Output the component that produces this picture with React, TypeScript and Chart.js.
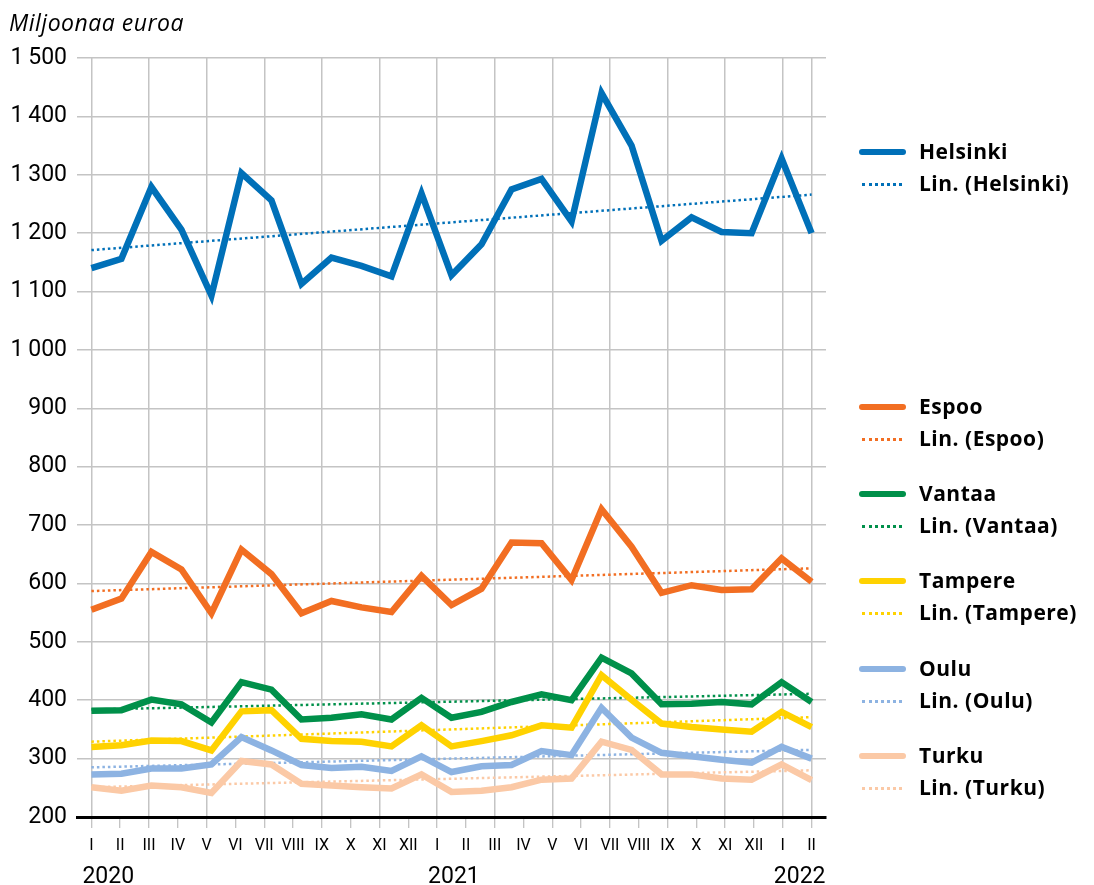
import React, { useEffect, useRef } from 'react';
import { Chart, registerables } from 'chart.js';

Chart.register(...registerables);

// Axis labels (26 month ticks shown on the axis)
const axisLabels = ['I', 'II', 'III', 'IV', 'V', 'VI', 'VII', 'VIII', 'IX', 'X', 'XI', 'XII',
  'I', 'II', 'III', 'IV', 'V', 'VI', 'VII', 'VIII', 'IX', 'X', 'XI', 'XII', 'I', 'II'];
const years = ['2020', '2021', '2022'];
const yearTickIndex = [0, 12, 24];
const titleText = 'Miljoonaa euroa';

// Monthly values, million euros (25 points as drawn in the source)
const helsinki = [1140, 1156, 1279, 1206, 1093, 1303, 1256, 1113, 1158, 1144, 1126, 1268, 1128,
  1181, 1275, 1293, 1220, 1440, 1350, 1187, 1227, 1202, 1200, 1328, 1200];
const espoo = [555, 574, 654, 624, 549, 658, 616, 549, 570, 559, 551, 613, 563,
  591, 670, 669, 606, 727, 663, 584, 597, 589, 590, 643, 603];
const vantaa = [382, 383, 401, 393, 362, 431, 418, 367, 370, 376, 367, 404, 370,
  380, 397, 410, 400, 473, 446, 393, 394, 397, 393, 431, 397];
const tampere = [320, 323, 331, 330, 314, 381, 383, 334, 330, 329, 321, 357, 321,
  330, 340, 357, 353, 443, 401, 360, 354, 350, 346, 380, 354];
const oulu = [273, 274, 283, 283, 290, 337, 314, 289, 284, 286, 279, 304, 277,
  287, 289, 313, 306, 387, 336, 310, 304, 298, 293, 320, 300];
const turku = [251, 245, 254, 251, 241, 296, 290, 257, 254, 251, 249, 273, 243,
  245, 251, 264, 266, 329, 315, 273, 273, 266, 264, 290, 263];

// Linear trend lines: start and end values as drawn
const trendHelsinki = [1171, 1266];
const trendEspoo = [587, 626];
const trendVantaa = [384, 411];
const trendTampere = [329, 371];
const trendOulu = [285, 315];
const trendTurku = [251, 280];

const cityNames = ['Helsinki', 'Espoo', 'Vantaa', 'Tampere', 'Oulu', 'Turku'];
const cityColors = ['#0070B8', '#F26E22', '#00904A', '#FFD200', '#8DB3E2', '#FBC9A6'];
const citySeries = [helsinki, espoo, vantaa, tampere, oulu, turku];
const cityTrends = [trendHelsinki, trendEspoo, trendVantaa, trendTampere, trendOulu, trendTurku];

const yMin = 200;
const yMax = 1500;
const yStep = 100;

const legendRowsY = [152, 407, 494, 581, 669, 756];

function fmt(v: number): string {
  if (v >= 1000) {
    const th = Math.floor(v / 1000);
    const rest = String(v % 1000).padStart(3, '0');
    return th + '\u2009' + rest;
  }
  return String(v);
}

const textPlugin = {
  id: 'extraText',
  afterDraw(chart: any) {
    const ctx = chart.ctx;
    const xs = chart.scales.x;
    ctx.save();
    ctx.fillStyle = '#000';
    ctx.textAlign = 'left';
    ctx.textBaseline = 'alphabetic';
    ctx.font = 'italic 23px "Open Sans", sans-serif';
    try { (ctx as any).letterSpacing = '0.5px'; } catch (e) { /* ignore */ }
    ctx.fillText(titleText, 9, 31);
    try { (ctx as any).letterSpacing = '0px'; } catch (e) { /* ignore */ }
    ctx.font = '23px Roboto, sans-serif';
    years.forEach((y, i) => {
      ctx.fillText(y, xs.getPixelForValue(yearTickIndex[i]) - 9, 883);
    });
    ctx.restore();
  },
};

export default function App() {
  const ref = useRef<HTMLCanvasElement | null>(null);

  useEffect(() => {
    if (!ref.current) return;
    const n = helsinki.length;
    const m = axisLabels.length;
    const ratio = (n - 1) / (m - 1);
    const datasets: any[] = [];
    citySeries.forEach((series, k) => {
      datasets.push({
        label: cityNames[k],
        data: series.map((v, i) => ({ x: i, y: v })),
        xAxisID: 'xd',
        borderColor: cityColors[k],
        backgroundColor: cityColors[k],
        borderWidth: 6.5,
        pointRadius: 0,
        fill: false,
        tension: 0,
        order: 0,
      });
    });
    cityTrends.forEach((tr, k) => {
      datasets.push({
        label: 'Lin. (' + cityNames[k] + ')',
        data: [{ x: 0, y: tr[0] }, { x: n - 1, y: tr[1] }],
        xAxisID: 'xd',
        borderColor: cityColors[k],
        borderWidth: 2.5,
        borderDash: [2.5, 3],
        pointRadius: 0,
        fill: false,
        order: 1,
      });
    });

    const chart = new Chart(ref.current, {
      type: 'line',
      data: { datasets },
      plugins: [textPlugin as any],
      options: {
        responsive: false,
        animation: false,
        devicePixelRatio: 1,
        layout: { padding: { left: 0, right: 268, top: 58, bottom: 0 } },
        plugins: { legend: { display: false }, tooltip: { enabled: false }, title: { display: false } },
        scales: {
          x: {
            type: 'linear',
            min: -0.5,
            max: m - 0.5,
            afterBuildTicks: (scale: any) => {
              scale.ticks = axisLabels.map((_, i) => ({ value: i }));
            },
            afterFit: (scale: any) => { scale.height = 68; },
            ticks: {
              autoSkip: false,
              maxRotation: 0,
              minRotation: 0,
              padding: 8,
              color: '#000',
              font: { family: 'Roboto', size: 16 },
              callback: (v: any) => axisLabels[Math.round(Number(v))] ?? '',
            },
            grid: {
              color: (ctx: any) => (ctx.index % 2 === 0 || ctx.index === m - 1) ? '#c4c4c4' : 'rgba(0,0,0,0)',
              lineWidth: 1.5,
              tickColor: '#b0b0b0',
              tickLength: 11,
              tickWidth: 1,
              drawTicks: true,
            },
            border: { display: true, color: '#000', width: 3 },
          },
          xd: {
            type: 'linear',
            display: false,
            min: -0.5 * ratio,
            max: (m - 0.5) * ratio,
          },
          y: {
            min: yMin,
            max: yMax,
            afterFit: (scale: any) => { scale.width = 77; },
            ticks: {
              stepSize: yStep,
              padding: 10,
              color: '#000',
              font: { family: 'Roboto', size: 23 },
              callback: (v: any) => fmt(Number(v)),
            },
            grid: { color: '#c4c4c4', lineWidth: 1.5, drawTicks: false },
            border: { display: false },
          },
        },
      },
    } as any);
    return () => chart.destroy();
  }, []);

  const legendFont = '700 21px "Open Sans", sans-serif';
  return (
    <div style={{ position: 'fixed', left: 0, top: 0, width: 1094, height: 885, background: '#fff', overflow: 'hidden' }}>
      <canvas ref={ref} width={1094} height={885} style={{ position: 'absolute', left: 0, top: 0, width: 1094, height: 885 }} />
      {cityNames.map((name, k) => (
        <React.Fragment key={name}>
          <div style={{ position: 'absolute', left: 859, top: legendRowsY[k] - 3, width: 47, height: 6, borderRadius: 3, background: cityColors[k] }} />
          <div style={{ position: 'absolute', left: 919, top: legendRowsY[k] - 15, height: 30, lineHeight: '30px', font: legendFont, letterSpacing: '0.5px', color: '#000', whiteSpace: 'nowrap' }}>{name}</div>
          <div style={{ position: 'absolute', left: 862, top: legendRowsY[k] + 32 - 1, width: 40, height: 0, borderTop: '3px dotted ' + cityColors[k] }} />
          <div style={{ position: 'absolute', left: 919, top: legendRowsY[k] + 32 - 15, height: 30, lineHeight: '30px', font: legendFont, letterSpacing: '0.5px', color: '#000', whiteSpace: 'nowrap' }}>{'Lin. (' + name + ')'}</div>
        </React.Fragment>
      ))}
    </div>
  );
}
